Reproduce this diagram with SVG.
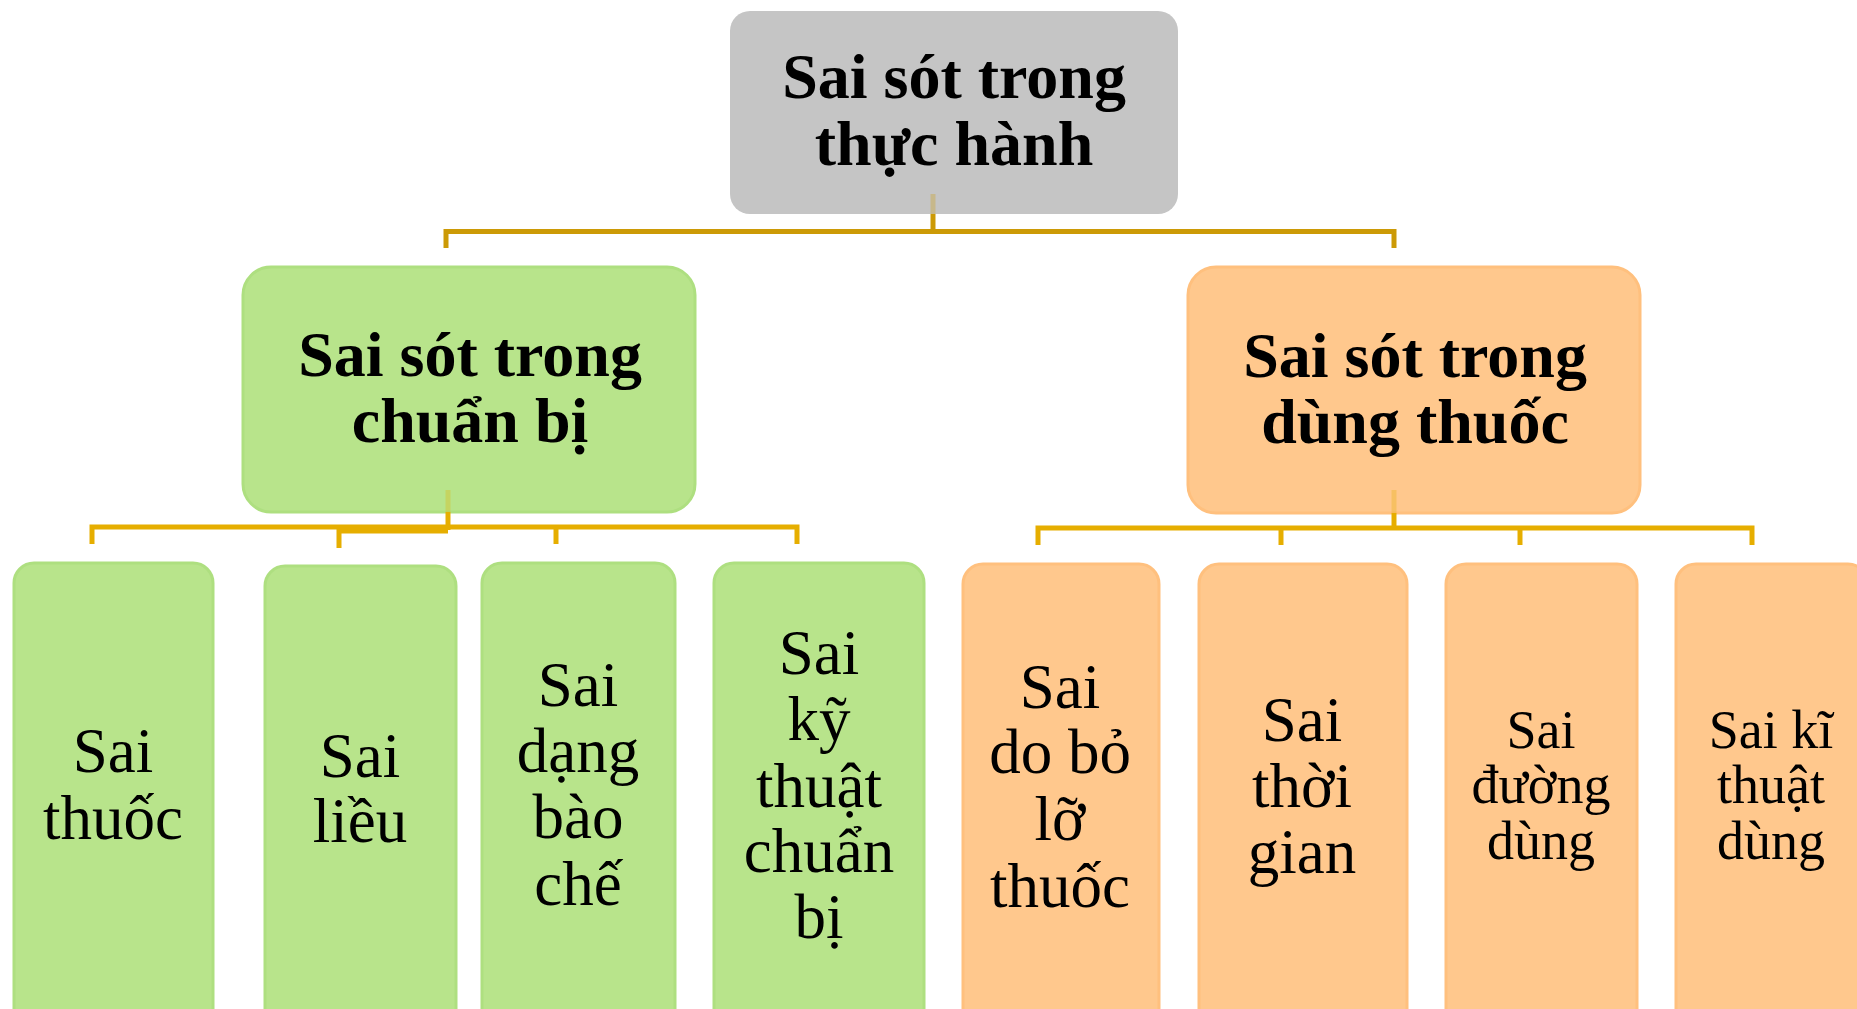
<svg xmlns="http://www.w3.org/2000/svg" width="1857" height="1009" viewBox="0 0 1857 1009">
  <style>
    .root { fill: #C5C5C5; }
    .green { fill: #B8E48B; stroke: #AEDF80; stroke-width: 3; }
    .orange { fill: #FFC88D; stroke: #FFC07E; stroke-width: 3; }
    .head { font-family: "Liberation Serif", "Times New Roman", serif; font-weight: bold; font-size: 64px; fill: #000; text-anchor: middle; }
    .leaf { font-family: "Liberation Serif", "Times New Roman", serif; font-size: 63px; fill: #000; text-anchor: middle; }
    .leaf-s { font-size: 54px; }
    .link-top { stroke: #CC9A06; stroke-width: 5; fill: none; }
    .link { stroke: #E6AE00; stroke-width: 5; fill: none; }
    .ghost { stroke-opacity: 0.3; }
  </style>
  <rect width="1857" height="1009" fill="#FFFFFF"/>

  <!-- root node -->
  <g id="node-root">
    <rect class="root" x="730" y="11" width="448" height="203" rx="20"/>
    <text class="head" x="954" y="98">Sai sót trong</text>
    <text class="head" x="954" y="165">thực hành</text>
  </g>

  <!-- second level -->
  <g id="node-prep">
    <rect class="green" x="243" y="267" width="452" height="245" rx="28"/>
    <text class="head" x="470" y="376">Sai sót trong</text>
    <text class="head" x="470" y="442">chuẩn bị</text>
  </g>
  <g id="node-use">
    <rect class="orange" x="1188" y="267" width="452" height="246" rx="28"/>
    <text class="head" x="1415" y="377">Sai sót trong</text>
    <text class="head" x="1415" y="443">dùng thuốc</text>
  </g>

  <!-- leaves: preparation -->
  <g id="leaf-drug">
    <rect class="green" x="14" y="563" width="199" height="470" rx="20"/>
    <text class="leaf" x="113" y="772">Sai</text>
    <text class="leaf" x="113" y="839">thuốc</text>
  </g>
  <g id="leaf-dose">
    <rect class="green" x="265" y="566" width="191" height="467" rx="20"/>
    <text class="leaf" x="360" y="777">Sai</text>
    <text class="leaf" x="360" y="842">liều</text>
  </g>
  <g id="leaf-form">
    <rect class="green" x="482" y="563" width="193" height="470" rx="20"/>
    <text class="leaf" x="578" y="706">Sai</text>
    <text class="leaf" x="578" y="772">dạng</text>
    <text class="leaf" x="578" y="838">bào</text>
    <text class="leaf" x="578" y="905">chế</text>
  </g>
  <g id="leaf-prep-technique">
    <rect class="green" x="714" y="563" width="210" height="470" rx="20"/>
    <text class="leaf" x="819" y="674">Sai</text>
    <text class="leaf" x="819" y="740">kỹ</text>
    <text class="leaf" x="819" y="807">thuật</text>
    <text class="leaf" x="819" y="872">chuẩn</text>
    <text class="leaf" x="819" y="938">bị</text>
  </g>

  <!-- leaves: administration -->
  <g id="leaf-missed">
    <rect class="orange" x="963" y="564" width="196" height="470" rx="20"/>
    <text class="leaf" x="1060" y="708">Sai</text>
    <text class="leaf" x="1060" y="773">do bỏ</text>
    <text class="leaf" x="1060" y="840">lỡ</text>
    <text class="leaf" x="1060" y="907">thuốc</text>
  </g>
  <g id="leaf-time">
    <rect class="orange" x="1199" y="564" width="208" height="470" rx="20"/>
    <text class="leaf" x="1302" y="741">Sai</text>
    <text class="leaf" x="1302" y="807">thời</text>
    <text class="leaf" x="1302" y="873">gian</text>
  </g>
  <g id="leaf-route">
    <rect class="orange" x="1446" y="564" width="191" height="470" rx="20"/>
    <text class="leaf leaf-s" x="1541" y="748">Sai</text>
    <text class="leaf leaf-s" x="1541" y="803">đường</text>
    <text class="leaf leaf-s" x="1541" y="859">dùng</text>
  </g>
  <g id="leaf-use-technique">
    <rect class="orange" x="1676" y="564" width="192" height="470" rx="20"/>
    <text class="leaf leaf-s" x="1771" y="748">Sai kĩ</text>
    <text class="leaf leaf-s" x="1771" y="803">thuật</text>
    <text class="leaf leaf-s" x="1771" y="859">dùng</text>
  </g>

  <!-- connectors -->
  <g id="connectors">
    <line class="link-top ghost" x1="933" y1="194" x2="933" y2="214" stroke-width="6"/>
    <line class="link-top" x1="933" y1="214" x2="933" y2="232" stroke-width="6"/>
    <path class="link-top" d="M446,248 V231.5 H1394 V248"/>

    <line class="link ghost" x1="448" y1="490" x2="448" y2="512" stroke-width="6"/>
    <line class="link" x1="448" y1="512" x2="448" y2="530" stroke-width="6"/>
    <path class="link" d="M92,544 V527 H797 V544"/>
    <path class="link" d="M556,527 V544"/>
    <path class="link" d="M448,531 H339 V548"/>

    <line class="link ghost" x1="1394" y1="490" x2="1394" y2="513" stroke-width="6"/>
    <line class="link" x1="1394" y1="513" x2="1394" y2="530" stroke-width="6"/>
    <path class="link" d="M1038,545 V528 H1752 V545"/>
    <path class="link" d="M1281,528 V545"/>
    <path class="link" d="M1520,528 V545"/>
  </g>
</svg>
